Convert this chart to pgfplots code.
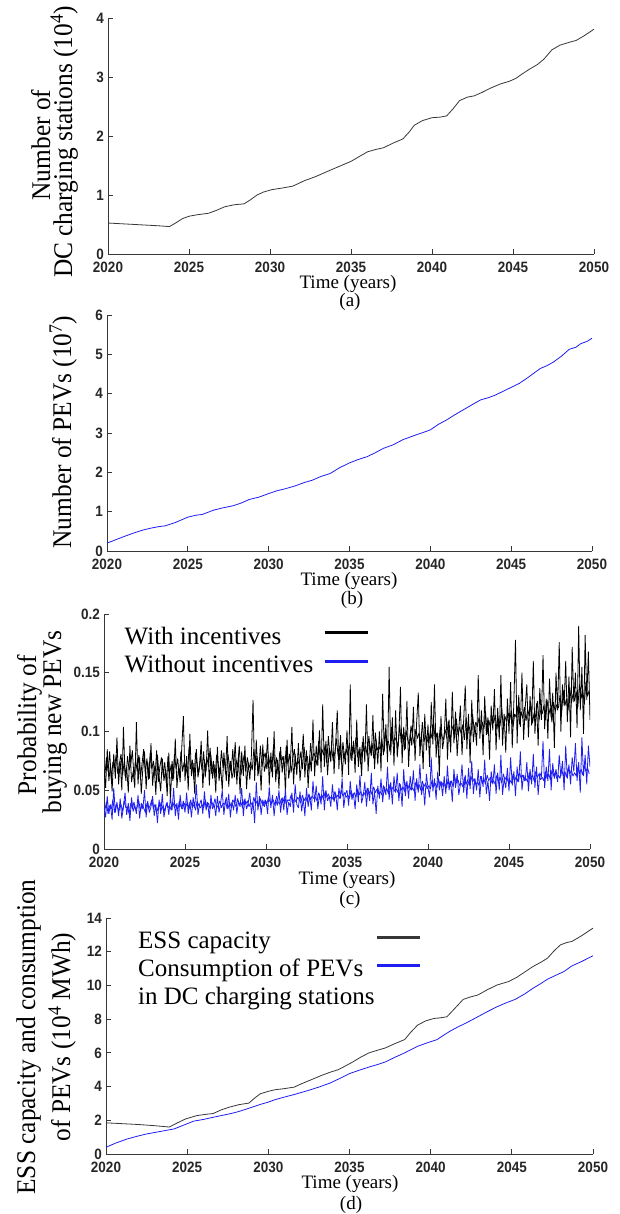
\documentclass[border=0pt]{standalone}
\usepackage{fontspec}
\setmainfont{Liberation Serif}
\newfontfamily\tickfont{Liberation Sans}[FakeStretch=0.9]
\newfontfamily\ylabfont{Liberation Serif}[FakeStretch=0.94]
\usepackage{pgfplots}
\usepackage{pgfplotstable}
\pgfplotsset{compat=1.18}
\definecolor{axgray}{RGB}{55,55,55}
\definecolor{pblue}{RGB}{30,30,240}
\pgfplotsset{
  myaxis/.style={
    scale only axis,
    anchor=south west,
    axis x line*=bottom, axis y line*=left,
    axis line style={axgray, line width=0.9pt},
    tick align=inside,
    major tick length=5pt,
    every tick/.style={axgray, line width=0.9pt},
    xmin=2020, xmax=2050,
    xtick={2020,2025,2030,2035,2040,2045,2050},
    xticklabels={2020,2025,2030,2035,2040,2045,2050},
    scaled ticks=false,
    tick label style={font=\tickfont\bfseries\fontsize{15}{15}\selectfont, text=black!85},
    xticklabel style={inner sep=0pt, yshift=-7.5pt},
    yticklabel style={inner sep=0pt, xshift=-4pt},
    legend plot pos=right,
    legend cell align=left,
  },
  mylegend/.style n args={3}{
    legend style={at={(0,1)}, anchor=north west, xshift=#1, yshift=#2,
      draw=none, fill=none, inner sep=0pt, row sep=#3, column sep=1pt,
      font=\fontsize{25}{25}\selectfont,
      nodes={inner sep=0pt, text height=19pt, text depth=6pt}},
  },
}
% with incentives, samples at 2020.0, 2020.1, ...
\pgfplotstableread{
y
0.068
0.052
0.085
0.058
0.072
0.049
0.081
0.060
0.095
0.055
0.075
0.050
0.104
0.062
0.070
0.048
0.088
0.057
0.066
0.052
0.108
0.055
0.078
0.047
0.069
0.083
0.051
0.074
0.060
0.090
0.054
0.071
0.046
0.080
0.062
0.049
0.077
0.058
0.068
0.045
0.082
0.040
0.075
0.060
0.094
0.052
0.070
0.057
0.086
0.113
0.058
0.079
0.050
0.098
0.062
0.073
0.047
0.085
0.061
0.070
0.092
0.052
0.076
0.066
0.101
0.054
0.080
0.060
0.072
0.048
0.087
0.058
0.070
0.050
0.082
0.064
0.096
0.053
0.075
0.060
0.068
0.091
0.055
0.078
0.047
0.083
0.062
0.088
0.051
0.074
0.059
0.080
0.127
0.058
0.093
0.062
0.076
0.050
0.089
0.066
0.073
0.095
0.054
0.082
0.061
0.100
0.057
0.076
0.051
0.087
0.065
0.079
0.048
0.093
0.060
0.072
0.104
0.055
0.081
0.063
0.090
0.058
0.075
0.098
0.061
0.084
0.052
0.079
0.066
0.110
0.062
0.088
0.071
0.101
0.065
0.123
0.070
0.092
0.063
0.085
0.074
0.108
0.064
0.090
0.118
0.068
0.097
0.061
0.083
0.072
0.101
0.063
0.140
0.075
0.092
0.065
0.110
0.070
0.087
0.062
0.096
0.074
0.123
0.066
0.089
0.079
0.114
0.068
0.093
0.072
0.100
0.066
0.132
0.083
0.106
0.074
0.155
0.080
0.112
0.071
0.118
0.078
0.096
0.138
0.073
0.104
0.085
0.126
0.070
0.098
0.088
0.121
0.075
0.108
0.133
0.079
0.100
0.068
0.115
0.084
0.106
0.070
0.125
0.089
0.140
0.078
0.099
0.062
0.113
0.085
0.095
0.128
0.076
0.110
0.082
0.134
0.090
0.117
0.079
0.102
0.122
0.080
0.109
0.139
0.085
0.115
0.073
0.127
0.091
0.105
0.088
0.148
0.094
0.118
0.080
0.130
0.097
0.112
0.076
0.122
0.101
0.136
0.084
0.120
0.093
0.148
0.088
0.115
0.082
0.128
0.098
0.142
0.086
0.125
0.178
0.090
0.131
0.104
0.150
0.093
0.120
0.140
0.095
0.130
0.105
0.160
0.098
0.124
0.088
0.137
0.110
0.165
0.102
0.128
0.094
0.145
0.112
0.133
0.086
0.150
0.118
0.176
0.100
0.140
0.122
0.160
0.108
0.147
0.095
0.172
0.125
0.150
0.103
0.190
0.118
0.155
0.098
0.182
0.127
0.168
0.110
}\withinc
% with incentives, samples at 2020.05, 2020.15, ...
\pgfplotstableread{
y
0.062
0.078
0.066
0.083
0.059
0.074
0.069
0.080
0.064
0.072
0.081
0.063
0.075
0.058
0.079
0.067
0.072
0.084
0.061
0.076
0.066
0.080
0.060
0.073
0.085
0.064
0.077
0.059
0.082
0.068
0.075
0.062
0.084
0.057
0.070
0.078
0.063
0.074
0.056
0.079
0.064
0.072
0.058
0.081
0.068
0.077
0.061
0.083
0.066
0.074
0.070
0.063
0.087
0.068
0.076
0.059
0.082
0.072
0.065
0.079
0.067
0.083
0.061
0.078
0.070
0.086
0.064
0.075
0.060
0.080
0.072
0.065
0.084
0.069
0.077
0.058
0.081
0.070
0.066
0.085
0.061
0.076
0.070
0.088
0.063
0.072
0.080
0.066
0.078
0.069
0.074
0.067
0.085
0.071
0.079
0.064
0.088
0.070
0.077
0.082
0.068
0.080
0.072
0.066
0.086
0.070
0.078
0.064
0.083
0.074
0.079
0.067
0.088
0.072
0.081
0.065
0.077
0.085
0.070
0.076
0.072
0.083
0.068
0.087
0.074
0.079
0.066
0.090
0.075
0.082
0.078
0.071
0.092
0.076
0.085
0.080
0.089
0.073
0.096
0.079
0.086
0.075
0.082
0.094
0.079
0.088
0.074
0.091
0.077
0.085
0.080
0.090
0.076
0.087
0.081
0.095
0.078
0.085
0.072
0.091
0.083
0.088
0.079
0.096
0.082
0.090
0.077
0.099
0.084
0.087
0.085
0.094
0.080
0.100
0.088
0.092
0.083
0.104
0.089
0.095
0.092
0.087
0.106
0.090
0.098
0.084
0.101
0.093
0.088
0.105
0.096
0.089
0.102
0.094
0.099
0.087
0.108
0.091
0.097
0.093
0.090
0.101
0.094
0.107
0.092
0.099
0.086
0.104
0.096
0.093
0.102
0.095
0.109
0.091
0.100
0.105
0.094
0.111
0.097
0.104
0.098
0.106
0.093
0.112
0.100
0.104
0.096
0.115
0.101
0.108
0.104
0.112
0.099
0.108
0.102
0.117
0.098
0.110
0.103
0.113
0.107
0.114
0.102
0.111
0.105
0.120
0.103
0.113
0.108
0.116
0.110
0.118
0.104
0.115
0.112
0.122
0.106
0.117
0.111
0.121
0.109
0.119
0.113
0.124
0.107
0.116
0.112
0.126
0.110
0.118
0.115
0.122
0.110
0.127
0.114
0.120
0.108
0.125
0.117
0.123
0.120
0.131
0.116
0.135
0.122
0.128
0.118
0.138
0.124
0.132
0.126
0.134
0.121
0.140
0.128
0.136
0.123
0.142
0.130
0.135
}\withincB
% without incentives, samples at 2020.0, 2020.1, ...
\pgfplotstableread{
y
0.035
0.027
0.045
0.030
0.038
0.025
0.052
0.031
0.040
0.028
0.043
0.026
0.036
0.048
0.029
0.039
0.024
0.044
0.032
0.037
0.030
0.046
0.026
0.039
0.034
0.050
0.027
0.041
0.031
0.036
0.045
0.028
0.038
0.022
0.042
0.030
0.047
0.027
0.035
0.040
0.029
0.044
0.033
0.052
0.028
0.039
0.025
0.046
0.034
0.041
0.031
0.048
0.030
0.040
0.027
0.044
0.035
0.055
0.029
0.038
0.042
0.030
0.049
0.033
0.040
0.026
0.046
0.034
0.038
0.028
0.045
0.031
0.039
0.050
0.029
0.042
0.034
0.047
0.027
0.040
0.033
0.046
0.030
0.041
0.036
0.052
0.028
0.043
0.034
0.039
0.048
0.030
0.040
0.022
0.057
0.033
0.045
0.029
0.042
0.036
0.041
0.030
0.053
0.035
0.046
0.028
0.042
0.037
0.050
0.031
0.044
0.033
0.051
0.029
0.040
0.036
0.048
0.031
0.055
0.038
0.035
0.049
0.032
0.043
0.028
0.052
0.036
0.045
0.033
0.058
0.040
0.054
0.034
0.047
0.038
0.062
0.033
0.050
0.041
0.045
0.036
0.055
0.040
0.048
0.033
0.052
0.043
0.060
0.035
0.047
0.050
0.037
0.058
0.042
0.047
0.034
0.055
0.040
0.063
0.039
0.045
0.057
0.036
0.052
0.041
0.065
0.038
0.049
0.030
0.054
0.043
0.060
0.040
0.053
0.046
0.070
0.042
0.057
0.038
0.062
0.048
0.065
0.041
0.055
0.036
0.068
0.045
0.058
0.043
0.062
0.050
0.067
0.041
0.060
0.048
0.072
0.046
0.055
0.037
0.064
0.052
0.044
0.078
0.049
0.060
0.042
0.066
0.050
0.058
0.045
0.062
0.047
0.071
0.050
0.058
0.040
0.068
0.052
0.064
0.046
0.055
0.072
0.048
0.063
0.043
0.069
0.051
0.075
0.047
0.060
0.050
0.068
0.044
0.062
0.053
0.076
0.047
0.058
0.041
0.066
0.055
0.072
0.047
0.065
0.050
0.080
0.046
0.060
0.052
0.069
0.049
0.078
0.054
0.066
0.045
0.070
0.057
0.083
0.050
0.063
0.058
0.074
0.049
0.068
0.055
0.081
0.052
0.070
0.046
0.065
0.061
0.092
0.052
0.070
0.058
0.085
0.050
0.073
0.060
0.068
0.057
0.080
0.062
0.075
0.050
0.088
0.060
0.072
0.055
0.078
0.066
0.090
0.058
0.074
0.048
0.095
0.062
0.080
0.055
0.088
0.070
}\withoutinc
% without incentives, samples at 2020.05, 2020.15, ...
\pgfplotstableread{
y
0.033
0.040
0.030
0.037
0.034
0.042
0.031
0.038
0.035
0.033
0.038
0.032
0.041
0.035
0.036
0.030
0.039
0.034
0.040
0.033
0.036
0.041
0.032
0.038
0.035
0.031
0.039
0.034
0.037
0.042
0.034
0.038
0.031
0.036
0.040
0.033
0.037
0.032
0.039
0.035
0.037
0.033
0.040
0.035
0.038
0.032
0.041
0.036
0.034
0.039
0.036
0.040
0.034
0.042
0.035
0.038
0.033
0.041
0.037
0.035
0.038
0.035
0.042
0.036
0.039
0.034
0.040
0.037
0.043
0.035
0.037
0.041
0.035
0.039
0.038
0.044
0.034
0.040
0.036
0.042
0.039
0.036
0.043
0.037
0.040
0.035
0.042
0.038
0.041
0.036
0.040
0.037
0.044
0.038
0.041
0.036
0.043
0.039
0.037
0.042
0.038
0.044
0.040
0.039
0.042
0.037
0.045
0.040
0.038
0.043
0.040
0.045
0.038
0.042
0.041
0.046
0.039
0.043
0.040
0.044
0.042
0.039
0.046
0.041
0.044
0.040
0.047
0.042
0.045
0.043
0.044
0.041
0.048
0.043
0.046
0.042
0.049
0.044
0.047
0.043
0.045
0.042
0.049
0.044
0.046
0.043
0.050
0.045
0.048
0.044
0.046
0.043
0.050
0.045
0.048
0.044
0.051
0.046
0.049
0.045
0.048
0.045
0.052
0.047
0.050
0.046
0.053
0.048
0.051
0.047
0.049
0.046
0.054
0.048
0.052
0.047
0.055
0.050
0.053
0.049
0.051
0.048
0.056
0.050
0.053
0.049
0.057
0.051
0.055
0.050
0.052
0.049
0.057
0.051
0.055
0.050
0.058
0.053
0.056
0.051
0.054
0.051
0.059
0.053
0.056
0.052
0.060
0.054
0.057
0.053
0.055
0.052
0.060
0.054
0.058
0.053
0.061
0.056
0.059
0.054
0.056
0.053
0.061
0.055
0.059
0.054
0.062
0.057
0.060
0.055
0.057
0.054
0.062
0.056
0.060
0.055
0.063
0.058
0.061
0.056
0.058
0.055
0.063
0.057
0.061
0.056
0.064
0.059
0.062
0.057
0.059
0.056
0.064
0.058
0.062
0.057
0.065
0.060
0.063
0.058
0.060
0.057
0.065
0.059
0.063
0.058
0.066
0.061
0.064
0.059
0.061
0.058
0.066
0.060
0.064
0.059
0.067
0.062
0.065
0.060
0.063
0.060
0.068
0.062
0.066
0.061
0.069
0.064
0.067
0.062
0.065
0.062
0.070
0.064
0.068
0.063
0.071
0.066
0.069
0.064
}\withoutincB
\begin{document}
\begin{tikzpicture}
\path[use as bounding box] (0pt,0pt) rectangle (619pt,-1214pt);
% ---------------- (a)
\begin{axis}[myaxis, at={(108pt,-254pt)}, width=486pt, height=236pt,
  ymin=0, ymax=4, ytick={0,1,2,3,4}, yticklabels={0,1,2,3,4}]
\addplot[axgray, line width=0.8pt] coordinates {
(2020,0.525)(2021,0.51)(2022,0.495)(2023,0.48)(2023.8,0.465)(2024.2,0.53)(2024.6,0.6)(2025,0.64)(2025.5,0.665)(2026.2,0.69)(2026.7,0.74)(2027.2,0.80)(2027.8,0.835)(2028.4,0.85)(2028.8,0.92)(2029.2,1.0)(2029.6,1.05)(2030.1,1.09)(2030.8,1.12)(2031.4,1.15)(2031.8,1.2)(2032.1,1.24)(2032.8,1.31)(2033.3,1.37)(2033.8,1.43)(2034.4,1.50)(2035,1.57)(2035.5,1.65)(2036,1.73)(2036.5,1.77)(2037,1.80)(2037.6,1.88)(2038.2,1.95)(2038.6,2.07)(2038.9,2.18)(2039.4,2.26)(2040,2.31)(2040.5,2.32)(2040.9,2.34)(2041.3,2.46)(2041.7,2.60)(2042.2,2.66)(2042.6,2.68)(2043.1,2.74)(2043.6,2.81)(2044.2,2.88)(2044.8,2.93)(2045.2,2.98)(2045.5,3.04)(2046,3.13)(2046.5,3.21)(2046.9,3.30)(2047.4,3.46)(2047.9,3.54)(2048.5,3.59)(2048.9,3.62)(2049.4,3.70)(2050,3.81)
};
\end{axis}
\node[rotate=90, anchor=base, font=\ylabfont\fontsize{27}{27}\selectfont] at (50pt,-145pt) {Number of};
\node[rotate=90, anchor=base, font=\ylabfont\fontsize{27}{27}\selectfont] at (72pt,-142pt) {DC charging stations (10\textsuperscript{4})};
\node[anchor=base, font=\fontsize{19}{19}\selectfont] at (348pt,-288.6pt) {Time (years)};
\node[anchor=base, font=\fontsize{19}{19}\selectfont] at (350pt,-306.5pt) {(a)};
% ---------------- (b)
\begin{axis}[myaxis, at={(107pt,-551pt)}, width=485pt, height=236pt,
  ymin=0, ymax=6, ytick={0,1,2,3,4,5,6}, yticklabels={0,1,2,3,4,5,6}]
\addplot[pblue, line width=0.8pt] coordinates {
(2020,0.2)(2020.5,0.28)(2021,0.36)(2021.6,0.45)(2022.2,0.53)(2022.7,0.58)(2023.2,0.62)(2023.6,0.64)(2024.2,0.72)(2025,0.86)(2025.5,0.91)(2025.9,0.93)(2026.6,1.04)(2027.2,1.10)(2027.8,1.15)(2028.3,1.22)(2028.8,1.31)(2029.4,1.37)(2030,1.46)(2030.5,1.53)(2031,1.58)(2031.6,1.65)(2032.2,1.74)(2032.7,1.80)(2033.2,1.89)(2033.8,1.97)(2034.4,2.12)(2035,2.24)(2035.5,2.32)(2036.1,2.40)(2036.6,2.50)(2037.1,2.61)(2037.7,2.70)(2038.3,2.83)(2039.1,2.95)(2039.6,3.02)(2040,3.08)(2040.5,3.22)(2041,3.33)(2041.5,3.46)(2042,3.58)(2042.5,3.70)(2043.1,3.84)(2043.6,3.90)(2044,3.96)(2044.5,4.06)(2045,4.16)(2045.5,4.26)(2046,4.40)(2046.4,4.52)(2046.8,4.64)(2047.2,4.71)(2047.6,4.80)(2048.1,4.95)(2048.6,5.13)(2049,5.18)(2049.3,5.27)(2049.7,5.33)(2050,5.41)
};
\end{axis}
\node[rotate=90, anchor=base, font=\ylabfont\fontsize{27}{27}\selectfont] at (71pt,-432pt) {Number of PEVs (10\textsuperscript{7})};
\node[anchor=base, font=\fontsize{19}{19}\selectfont] at (349pt,-585.6pt) {Time (years)};
\node[anchor=base, font=\fontsize{19}{19}\selectfont] at (352pt,-604.5pt) {(b)};
% ---------------- (c)
\begin{axis}[myaxis, at={(104pt,-849pt)}, width=486pt, height=235pt,
  ymin=0, ymax=0.2, ytick={0,0.05,0.1,0.15,0.2}, yticklabels={0,0.05,0.1,0.15,0.2},
  mylegend={20.5pt}{-11pt}{3.5pt},
  legend style={column sep=10pt},
  legend image code/.code={\draw[#1, line width=3pt] (0pt,5pt) -- (43pt,5pt);}]
\addplot[black, line width=0.8pt, line join=bevel] table[x expr={2020+\coordindex/10}, y=y] {\withinc};
\addlegendentry{With incentives}
\addplot[black, line width=0.8pt, line join=bevel, forget plot] table[x expr={2020.05+\coordindex/10}, y=y] {\withincB};
\addplot[pblue, line width=0.8pt, line join=bevel] table[x expr={2020+\coordindex/10}, y=y] {\withoutinc};
\addlegendentry{Without incentives}
\addplot[pblue, line width=0.8pt, line join=bevel, forget plot] table[x expr={2020.05+\coordindex/10}, y=y] {\withoutincB};
\end{axis}
\node[rotate=90, anchor=base, font=\ylabfont\fontsize{27}{27}\selectfont] at (36pt,-725pt) {Probability of};
\node[rotate=90, anchor=base, font=\ylabfont\fontsize{27}{27}\selectfont] at (61pt,-722pt) {buying new PEVs};
\node[anchor=base, font=\fontsize{19}{19}\selectfont] at (347pt,-884.6pt) {Time (years)};
\node[anchor=base, font=\fontsize{19}{19}\selectfont] at (350pt,-904.5pt) {(c)};
% ---------------- (d)
\begin{axis}[myaxis, at={(106pt,-1154pt)}, width=487pt, height=236pt,
  ymin=0, ymax=14, ytick={0,2,4,6,8,10,12,14}, yticklabels={0,2,4,6,8,10,12,14},
  mylegend={32pt}{-11pt}{3pt},
  legend image code/.code={\draw[#1, line width=3pt] (0pt,4pt) -- (43pt,4pt);}]
\addplot[axgray, line width=0.8pt] coordinates {
(2020,1.85)(2021,1.80)(2022,1.75)(2023,1.68)(2023.9,1.60)(2024.4,1.85)(2024.9,2.08)(2025.6,2.28)(2026.2,2.36)(2026.6,2.40)(2027.1,2.62)(2027.6,2.78)(2028.2,2.93)(2028.8,3.02)(2029.2,3.35)(2029.5,3.57)(2030,3.72)(2030.4,3.81)(2031,3.88)(2031.6,3.97)(2032,4.15)(2032.4,4.31)(2033.3,4.67)(2033.8,4.85)(2034.3,5.0)(2034.8,5.25)(2035.2,5.46)(2035.7,5.75)(2036.2,6.0)(2036.7,6.15)(2037.2,6.29)(2037.8,6.55)(2038.4,6.79)(2038.8,7.25)(2039.2,7.65)(2039.7,7.90)(2040.2,8.04)(2040.6,8.08)(2041,8.14)(2041.5,8.65)(2042,9.17)(2042.5,9.33)(2042.9,9.43)(2043.5,9.75)(2044.1,10.03)(2044.8,10.23)(2045.3,10.48)(2045.8,10.80)(2046.3,11.12)(2046.8,11.38)(2047.2,11.62)(2047.6,12.05)(2048,12.41)(2048.4,12.55)(2048.7,12.61)(2049.3,12.95)(2050,13.40)
};
\addlegendentry{ESS capacity}
\addplot[pblue, line width=0.8pt] coordinates {
(2020,0.40)(2020.6,0.65)(2021.3,0.89)(2021.9,1.05)(2022.5,1.19)(2023.3,1.33)(2024.2,1.49)(2024.8,1.72)(2025.4,1.95)(2026,2.05)(2026.6,2.18)(2027.1,2.28)(2027.6,2.38)(2028.1,2.50)(2028.5,2.62)(2029,2.78)(2029.5,2.94)(2030,3.08)(2030.4,3.22)(2031,3.38)(2031.6,3.53)(2032.1,3.67)(2032.6,3.81)(2033.2,4.0)(2033.8,4.21)(2034.4,4.48)(2035,4.77)(2035.6,4.97)(2036.2,5.16)(2036.7,5.30)(2037.2,5.46)(2037.8,5.74)(2038.4,6.0)(2038.8,6.20)(2039.2,6.39)(2039.8,6.60)(2040.4,6.79)(2040.8,7.05)(2041.2,7.29)(2041.7,7.55)(2042.2,7.78)(2042.9,8.14)(2043.5,8.45)(2044.1,8.74)(2044.6,8.95)(2045.2,9.17)(2045.8,9.50)(2046.3,9.83)(2046.8,10.12)(2047.2,10.37)(2047.7,10.60)(2048.2,10.82)(2048.7,11.16)(2049.3,11.42)(2050,11.76)
};
\addlegendentry{Consumption of PEVs}
\addlegendimage{empty legend}
\addlegendentry{in DC charging stations}
\end{axis}
\node[rotate=90, anchor=base, font=\ylabfont\fontsize{27}{27}\selectfont] at (35pt,-1037pt) {ESS capacity and consumption};
\node[rotate=90, anchor=base, font=\ylabfont\fontsize{27}{27}\selectfont] at (70pt,-1037pt) {of PEVs (10\textsuperscript{4} MWh)};
\node[anchor=base, font=\fontsize{19}{19}\selectfont] at (350pt,-1188.6pt) {Time (years)};
\node[anchor=base, font=\fontsize{19}{19}\selectfont] at (351pt,-1209pt) {(d)};
\end{tikzpicture}
\end{document}
